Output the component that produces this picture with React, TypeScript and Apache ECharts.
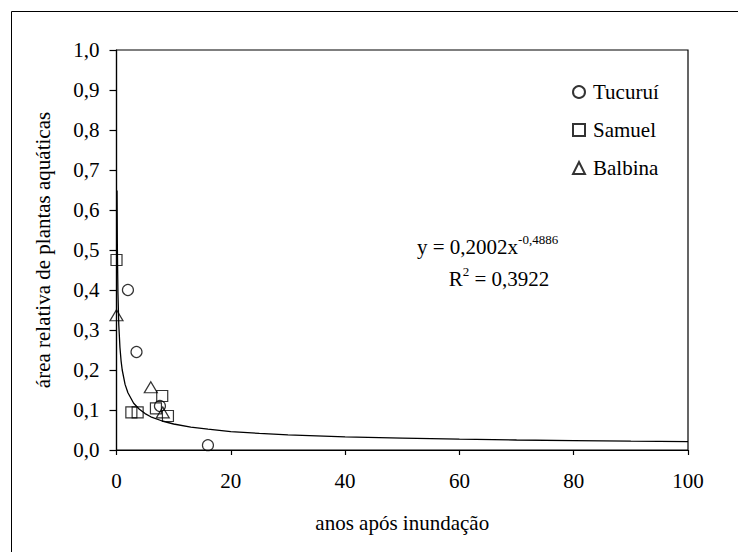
import React, { useEffect, useRef } from "react";
import * as echarts from "echarts";

const tucuruiX = [2, 3.5, 7.6, 16];
const tucuruiY = [0.4, 0.245, 0.11, 0.012];

const samuelX = [0, 2.6, 3.7, 6.9, 8, 9];
const samuelY = [0.475, 0.094, 0.094, 0.104, 0.135, 0.085];

const balbinaX = [0, 6, 8.1];
const balbinaY = [0.337, 0.157, 0.094];

// trend line points (power trendline)
const trendX = [0.09, 0.15, 0.25, 0.4, 0.6, 0.8, 1, 1.5, 2, 3, 4, 5, 6, 8, 10, 13, 16, 20, 25, 30, 40, 50, 60, 70, 80, 90, 100];
const trendY = [0.649, 0.506, 0.394, 0.313, 0.257, 0.223, 0.2, 0.164, 0.143, 0.117, 0.102, 0.091, 0.083, 0.0725, 0.065, 0.057, 0.052, 0.046, 0.0415, 0.038, 0.033, 0.0296, 0.027, 0.025, 0.0235, 0.022, 0.021];

const xTicks = [0, 20, 40, 60, 80, 100];
const yTicks = [0, 0.1, 0.2, 0.3, 0.4, 0.5, 0.6, 0.7, 0.8, 0.9, 1.0];

const seriesNames = ["Tucuruí", "Samuel", "Balbina"];
const equationText = ["y = 0,2002x", "-0,4886"];
const r2Text = ["R", "2", " = 0,3922"];
const xTitle = "anos após inundação";
const yTitle = "área relativa de plantas aquáticas";

const FONT = "Liberation Serif";

const zip = (xs: number[], ys: number[]) => xs.map((x, i) => [x, ys[i]]);

export default function App() {
  const ref = useRef<HTMLDivElement>(null);
  useEffect(() => {
    document.body.style.margin = "0";
    const chart = echarts.init(ref.current!, null, { renderer: "svg" });
    const markerStyle = { color: "rgba(0,0,0,0)", borderColor: "#000", borderWidth: 1.2 };
    chart.setOption({
      animation: false,
      backgroundColor: "#fff",
      textStyle: { fontFamily: FONT },
      grid: { left: 116.5, right: 50, top: 50, bottom: 102, show: true, borderColor: "#000", borderWidth: 1.2, backgroundColor: "transparent" },
      xAxis: {
        type: "value",
        min: xTicks[0],
        max: xTicks[xTicks.length - 1],
        interval: 20,
        name: xTitle,
        nameLocation: "middle",
        nameGap: 62,
        nameTextStyle: { fontFamily: FONT, fontSize: 21, color: "#000" },
        axisLine: { show: true, onZero: false, lineStyle: { color: "#000", width: 1.2 } },
        axisTick: { show: true, inside: false, length: 5, lineStyle: { color: "#000", width: 1.2 } },
        axisLabel: { fontFamily: FONT, fontSize: 21, color: "#000", margin: 20 },
        splitLine: { show: false },
      },
      yAxis: {
        type: "value",
        min: yTicks[0],
        max: yTicks[yTicks.length - 1],
        interval: 0.1,
        name: yTitle,
        nameLocation: "middle",
        nameGap: 63,
        nameRotate: 90,
        nameTextStyle: { fontFamily: FONT, fontSize: 21, color: "#000" },
        axisLine: { show: true, onZero: false, lineStyle: { color: "#000", width: 1.2 } },
        axisTick: { show: true, inside: false, length: 7, lineStyle: { color: "#000", width: 1.2 } },
        axisLabel: {
          fontFamily: FONT,
          fontSize: 21,
          color: "#000",
          margin: 17,
          formatter: (v: number) => v.toFixed(1).replace(".", ","),
        },
        splitLine: { show: false },
      },
      legend: {
        orient: "vertical",
        left: 567,
        top: 76,
        itemWidth: 12,
        itemHeight: 12,
        itemGap: 16,
        data: seriesNames,
        textStyle: { fontFamily: FONT, fontSize: 21, color: "#000", lineHeight: 22, padding: [0, 0, 0, 3] },
      },
      graphic: [
        {
          type: "rect",
          shape: { x: 11.5, y: 11.5, width: 800, height: 600 },
          style: { fill: "none", stroke: "#000", lineWidth: 1 },
          silent: true,
        },
        {
          type: "text",
          x: 417,
          y: 245,
          style: {
            text: `{n|${equationText[0]}}{s|${equationText[1]}}`,
            verticalAlign: "middle",
            rich: {
              n: { fontFamily: FONT, fontSize: 21, fill: "#000", lineHeight: 24, verticalAlign: "bottom" },
              s: { fontFamily: FONT, fontSize: 13, fill: "#000", lineHeight: 24, verticalAlign: "top" },
            },
          },
        },
        {
          type: "text",
          x: 499,
          y: 277,
          style: {
            text: `{n|${r2Text[0]}}{s|${r2Text[1]}}{n|${r2Text[2]}}`,
            align: "center",
            verticalAlign: "middle",
            rich: {
              n: { fontFamily: FONT, fontSize: 21, fill: "#000", lineHeight: 24, verticalAlign: "bottom" },
              s: { fontFamily: FONT, fontSize: 13, fill: "#000", lineHeight: 24, verticalAlign: "top" },
            },
          },
        },
      ],
      series: [
        {
          type: "line",
          data: zip(trendX, trendY),
          showSymbol: false,
          symbol: "none",
          lineStyle: { color: "#000", width: 1.3 },
          z: 1,
          silent: true,
        },
        {
          name: seriesNames[0],
          type: "scatter",
          symbol: "circle",
          symbolSize: 11,
          data: zip(tucuruiX, tucuruiY),
          itemStyle: markerStyle,
          z: 3,
        },
        {
          name: seriesNames[1],
          type: "scatter",
          symbol: "rect",
          symbolSize: 11,
          data: zip(samuelX, samuelY),
          itemStyle: markerStyle,
          z: 3,
        },
        {
          name: seriesNames[2],
          type: "scatter",
          symbol: "triangle",
          symbolSize: [13, 11],
          data: zip(balbinaX, balbinaY),
          itemStyle: markerStyle,
          z: 3,
        },
      ],
    });
    return () => chart.dispose();
  }, []);
  return <div ref={ref} style={{ position: "fixed", left: 0, top: 0, width: 738, height: 552 }} />;
}
